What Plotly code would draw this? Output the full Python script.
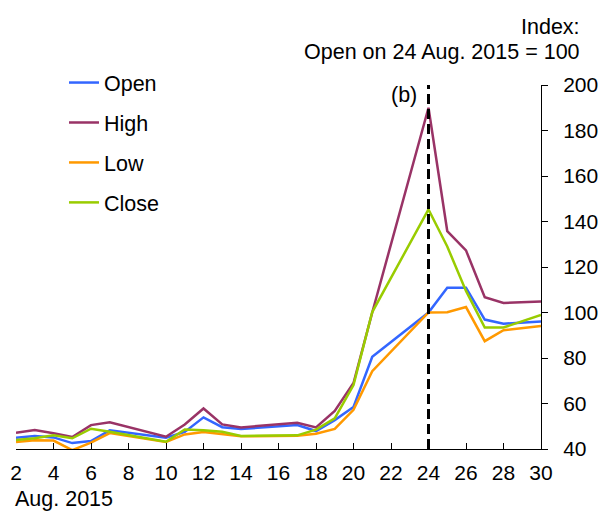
import plotly.graph_objects as go

days = [2, 3, 4, 5, 6, 7, 10, 11, 12, 13, 14, 17, 18, 19, 20, 21, 24, 25, 26, 27, 28, 30]
open_ = [45.0, 45.7, 45.1, 42.6, 43.5, 48.2, 45.0, 47.5, 53.9, 49.6, 48.8, 50.5, 47.9, 52.7, 58.5, 80.5, 100.0, 110.9, 110.9, 96.9, 95.1, 96.0]
high = [47.1, 48.3, 46.9, 45.3, 50.5, 51.7, 45.4, 50.8, 57.8, 50.8, 49.5, 51.5, 49.5, 56.7, 69.0, 100.0, 190.0, 135.8, 127.3, 106.7, 104.2, 104.8]
low = [43.1, 43.8, 43.7, 39.5, 42.8, 47.0, 43.1, 46.4, 47.5, 46.6, 45.6, 45.8, 46.7, 48.8, 57.2, 74.2, 100.0, 100.1, 102.4, 87.4, 92.2, 94.1]
close = [43.9, 44.7, 46.0, 44.7, 48.9, 47.6, 43.2, 48.6, 48.2, 47.6, 45.7, 46.0, 48.5, 53.5, 68.1, 100.2, 145.3, 129.0, 109.5, 93.4, 93.4, 98.9]

x_ticks = list(range(2, 31, 2))
y_ticks = list(range(40, 201, 20))

series = [("Open", open_, "#3366FF"), ("High", high, "#993366"),
          ("Low", low, "#FF9900"), ("Close", close, "#99CC00")]

FONT = "Liberation Sans, Arial, sans-serif"
FS = 21.5

fig = go.Figure()
for name, vals, col in series:
    fig.add_trace(go.Scatter(x=days, y=vals, mode="lines", name=name,
                             legendgroup=name,
                             line=dict(color=col, width=2.5)))

fig.add_shape(type="line", xref="x", yref="y", x0=24, x1=24, y0=40, y1=200,
              line=dict(color="black", width=3, dash="10px,5px"))

fig.add_annotation(x=24, y=195.5, xref="x", yref="y", text="(b)", showarrow=False,
                   xanchor="right", yanchor="middle", xshift=-10,
                   font=dict(size=FS, color="black", family=FONT))
fig.add_annotation(x=1.078, y=1.159, xref="paper", yref="paper", text="Index:",
                   showarrow=False, xanchor="right", yanchor="middle",
                   font=dict(size=FS, color="black", family=FONT))
fig.add_annotation(x=1.078, y=1.091, xref="paper", yref="paper",
                   text="Open on 24 Aug. 2015 = 100",
                   showarrow=False, xanchor="right", yanchor="middle",
                   font=dict(size=FS, color="black", family=FONT))
fig.add_annotation(x=-0.006, y=-0.137, xref="paper", yref="paper", text="Aug. 2015",
                   showarrow=False, xanchor="left", yanchor="middle",
                   font=dict(size=FS, color="black", family=FONT))

fig.update_layout(
    width=598, height=511,
    margin=dict(l=16, r=57, t=85, b=62, autoexpand=False),
    paper_bgcolor="white", plot_bgcolor="white",
    font=dict(family=FONT, size=FS, color="black"),
    showlegend=True,
    legend=dict(x=0.0914, y=1.063, xanchor="left", yanchor="top",
                bgcolor="rgba(0,0,0,0)", tracegroupgap=9,
                font=dict(size=FS, family=FONT, color="black")),
    xaxis=dict(range=[2, 30], tickmode="array", tickvals=x_ticks,
               ticktext=[str(t) for t in x_ticks], automargin=False,
               showgrid=False, zeroline=False, showline=True, linecolor="black",
               linewidth=1, ticks="inside", ticklen=6, tickcolor="black",
               tickfont=dict(size=21), ticklabelstandoff=5),
    yaxis=dict(range=[40, 200], side="right", tickmode="array", tickvals=y_ticks,
               automargin=False,
               showgrid=False, zeroline=False, showline=True, linecolor="black",
               linewidth=1, ticks="outside", ticklen=6, tickcolor="black",
               tickfont=dict(size=21), ticklabelstandoff=11),
)

# remove the default 8px page margin so the 598x511 figure fills the window exactly
fig.write_html("out.html", config={"displayModeBar": False},
               post_script="document.body.style.margin='0';")
